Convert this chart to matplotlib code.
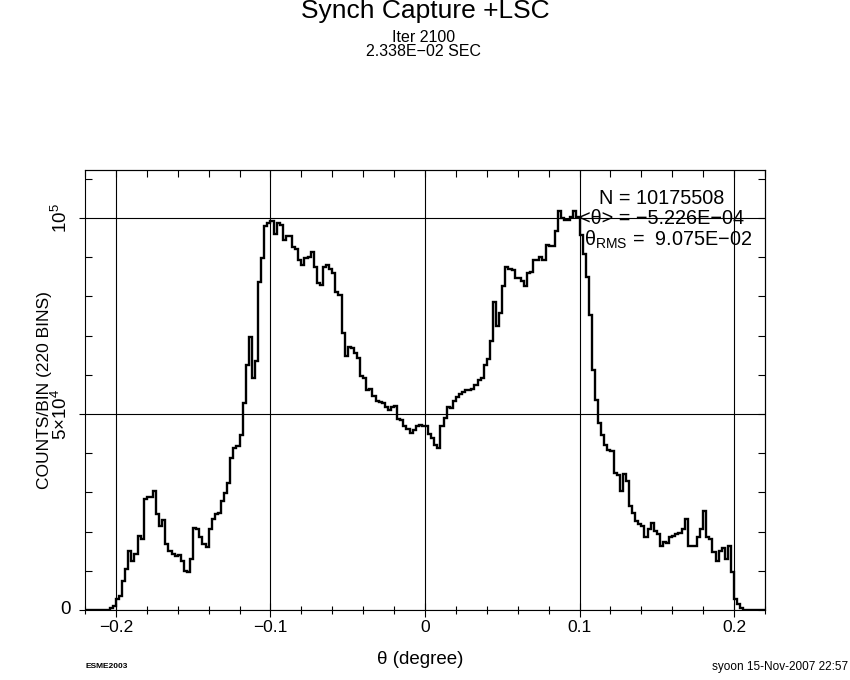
import numpy as np
import matplotlib
matplotlib.use("Agg")
import matplotlib.pyplot as plt
from matplotlib.ticker import MultipleLocator, FixedLocator, NullFormatter

plt.rcParams['font.family'] = ['Liberation Sans', 'DejaVu Sans']
plt.rcParams['mathtext.fontset'] = 'custom'
plt.rcParams['mathtext.rm'] = 'Liberation Sans'
plt.rcParams['mathtext.it'] = 'Liberation Sans'

# ---------------- data ----------------
bin_lo = -0.22
bin_hi = 0.22
n_bins = 220
scale = 1e4
# counts per bin in units of 1e4
counts_1e4 = [
    0, 0, 0, 0, 0, 0, 0, 0, 0.04, 0.1,
    0.28, 0.36, 0.75, 1.04, 1.5, 1.25, 1.42, 1.89, 1.8, 2.82,
    2.88, 2.88, 3.03, 2.44, 2.14, 2.3, 1.68, 1.5, 1.42, 1.38,
    1.4, 1.25, 1.0, 0.96, 1.3, 2.1, 2.06, 1.85, 1.68, 1.6,
    2.06, 2.31, 2.44, 2.48, 2.78, 2.99, 3.25, 3.88, 4.14, 4.18,
    4.47, 5.28, 6.25, 6.97, 5.92, 6.34, 8.37, 8.98, 9.8, 9.87,
    9.92, 9.6, 9.88, 9.81, 9.43, 9.53, 9.53, 9.26, 9.22, 8.94,
    8.8, 8.97, 9.0, 9.14, 8.74, 8.33, 8.29, 8.75, 8.8, 8.71,
    8.6, 8.12, 8.03, 7.06, 6.47, 6.7, 6.69, 6.55, 6.44, 5.96,
    5.92, 5.62, 5.64, 5.45, 5.32, 5.3, 5.28, 5.19, 5.09, 5.19,
    5.21, 4.87, 4.84, 4.69, 4.62, 4.52, 4.6, 4.69, 4.73, 4.69,
    4.69, 4.5, 4.38, 4.2, 4.12, 4.69, 4.9, 5.19, 5.15, 5.32,
    5.43, 5.5, 5.55, 5.62, 5.62, 5.64, 5.75, 5.87, 5.92, 6.25,
    6.4, 6.85, 7.86, 7.25, 7.57, 8.26, 8.75, 8.71, 8.67, 8.46,
    8.48, 8.4, 8.26, 8.6, 8.63, 8.92, 8.94, 9.0, 8.92, 9.3,
    9.28, 9.28, 9.67, 10.19, 10.0, 9.94, 9.96, 10.03, 10.19, 10.03,
    9.56, 9.09, 8.5, 7.53, 6.13, 5.36, 4.77, 4.47, 4.22, 4.09,
    4.05, 3.5, 3.45, 3.03, 3.46, 3.29, 2.65, 2.48, 2.27, 2.19,
    2.14, 1.85, 2.06, 2.23, 2.02, 1.93, 1.64, 1.74, 1.72, 1.85,
    1.89, 1.93, 1.97, 2.06, 2.31, 1.64, 1.64, 1.64, 1.85, 2.06,
    2.53, 1.85, 1.8, 1.47, 1.25, 1.51, 1.59, 1.3, 1.64, 0.96,
    0.28, 0.15, 0.04, 0, 0, 0, 0, 0, 0, 0,
]
y_max = 1.1224e5

x_ticks = [-0.2, -0.1, 0.0, 0.1, 0.2]
x_tick_labels = ['\u22120.2', '\u22120.1', '0', '0.1', '0.2']
y_ticks = [0, 5e4, 1e5]
y_tick_labels = ['0', r'$5{\times}10^{4}$', r'$10^{5}$']

title = 'Synch Capture +LSC'
sub1 = 'Iter 2100'
sub2 = '2.338E\u221202 SEC'
stat_lines = ['N = 10175508',
              '<\u03b8> = \u22125.226E\u221204',
              r'$\theta_{\mathrm{RMS}}$ =  9.075E' + '\u221202']

# ---------------- figure ----------------
W, H = 850, 680
fig = plt.figure(figsize=(W / 100, H / 100), dpi=100)
ax = fig.add_axes([85 / W, 1 - 610 / H, 680 / W, 440 / H])

edges = np.linspace(bin_lo, bin_hi, n_bins + 1)
counts = np.array(counts_1e4) * scale
ax.stairs(counts, edges, color='black', lw=1.7, baseline=None)

ax.set_xlim(bin_lo, bin_hi)
ax.set_ylim(0, y_max)

ax.xaxis.set_major_locator(FixedLocator(x_ticks))
ax.set_xticklabels(x_tick_labels, fontsize=12.5)
ax.xaxis.set_minor_locator(MultipleLocator(0.02))
ax.yaxis.set_major_locator(FixedLocator(y_ticks))
ylabs = ax.set_yticklabels(y_tick_labels, fontsize=13.5, rotation=90, va='center')
ylabs[0].set_rotation(0)
ax.yaxis.set_minor_locator(MultipleLocator(1e4))

ax.grid(True, which='major', color='black', lw=0.8)
ax.set_axisbelow(False)
for s in ax.spines.values():
    s.set_linewidth(0.8)

ax.tick_params(axis='x', which='major', direction='inout', length=10, width=0.8,
               pad=2)
ax.tick_params(axis='x', which='minor', direction='inout', length=6, width=0.8)
ax.tick_params(axis='y', which='major', direction='out', length=4, width=0.8,
               pad=6)
ax.tick_params(axis='y', which='minor', direction='in', length=5, width=0.8)

secx = ax.secondary_xaxis('top')
secx.xaxis.set_major_locator(FixedLocator(x_ticks))
secx.xaxis.set_minor_locator(MultipleLocator(0.02))
secx.xaxis.set_major_formatter(NullFormatter())
secx.tick_params(which='both', direction='in', length=5, width=0.8)

secy = ax.secondary_yaxis('right')
secy.yaxis.set_major_locator(FixedLocator(y_ticks))
secy.yaxis.set_minor_locator(MultipleLocator(1e4))
secy.yaxis.set_major_formatter(NullFormatter())
secy.tick_params(which='both', direction='in', length=5, width=0.8)

def px(x, y):
    return (x / W, 1 - y / H)

# stats text
fig.text(*px(662, 198), stat_lines[0], ha='center', va='center', fontsize=14.3)
fig.text(*px(662, 219), stat_lines[1], ha='center', va='center', fontsize=14.3)
fig.text(*px(668, 240), stat_lines[2], ha='center', va='center', fontsize=14.3)

# titles
fig.text(*px(425, 11), title, ha='center', va='center', fontsize=19)
fig.text(*px(424, 37), sub1, ha='center', va='center', fontsize=11.5)
fig.text(*px(423, 51), sub2, ha='center', va='center', fontsize=11.5)

# axis labels
fig.text(*px(45, 390), 'COUNTS/BIN (220 BINS)', rotation=90,
         ha='center', va='center', fontsize=12.5)
fig.text(*px(420, 659), '\u03b8 (degree)', ha='center', va='center', fontsize=13.5)

# footer
fig.text(*px(85, 667), 'ESME2003', ha='left', va='center', fontsize=6,
         fontweight='bold')
fig.text(*px(848, 667), 'syoon 15-Nov-2007 22:57', ha='right', va='center',
         fontsize=8.5)

fig.savefig('out.png', dpi=100, facecolor='white')
